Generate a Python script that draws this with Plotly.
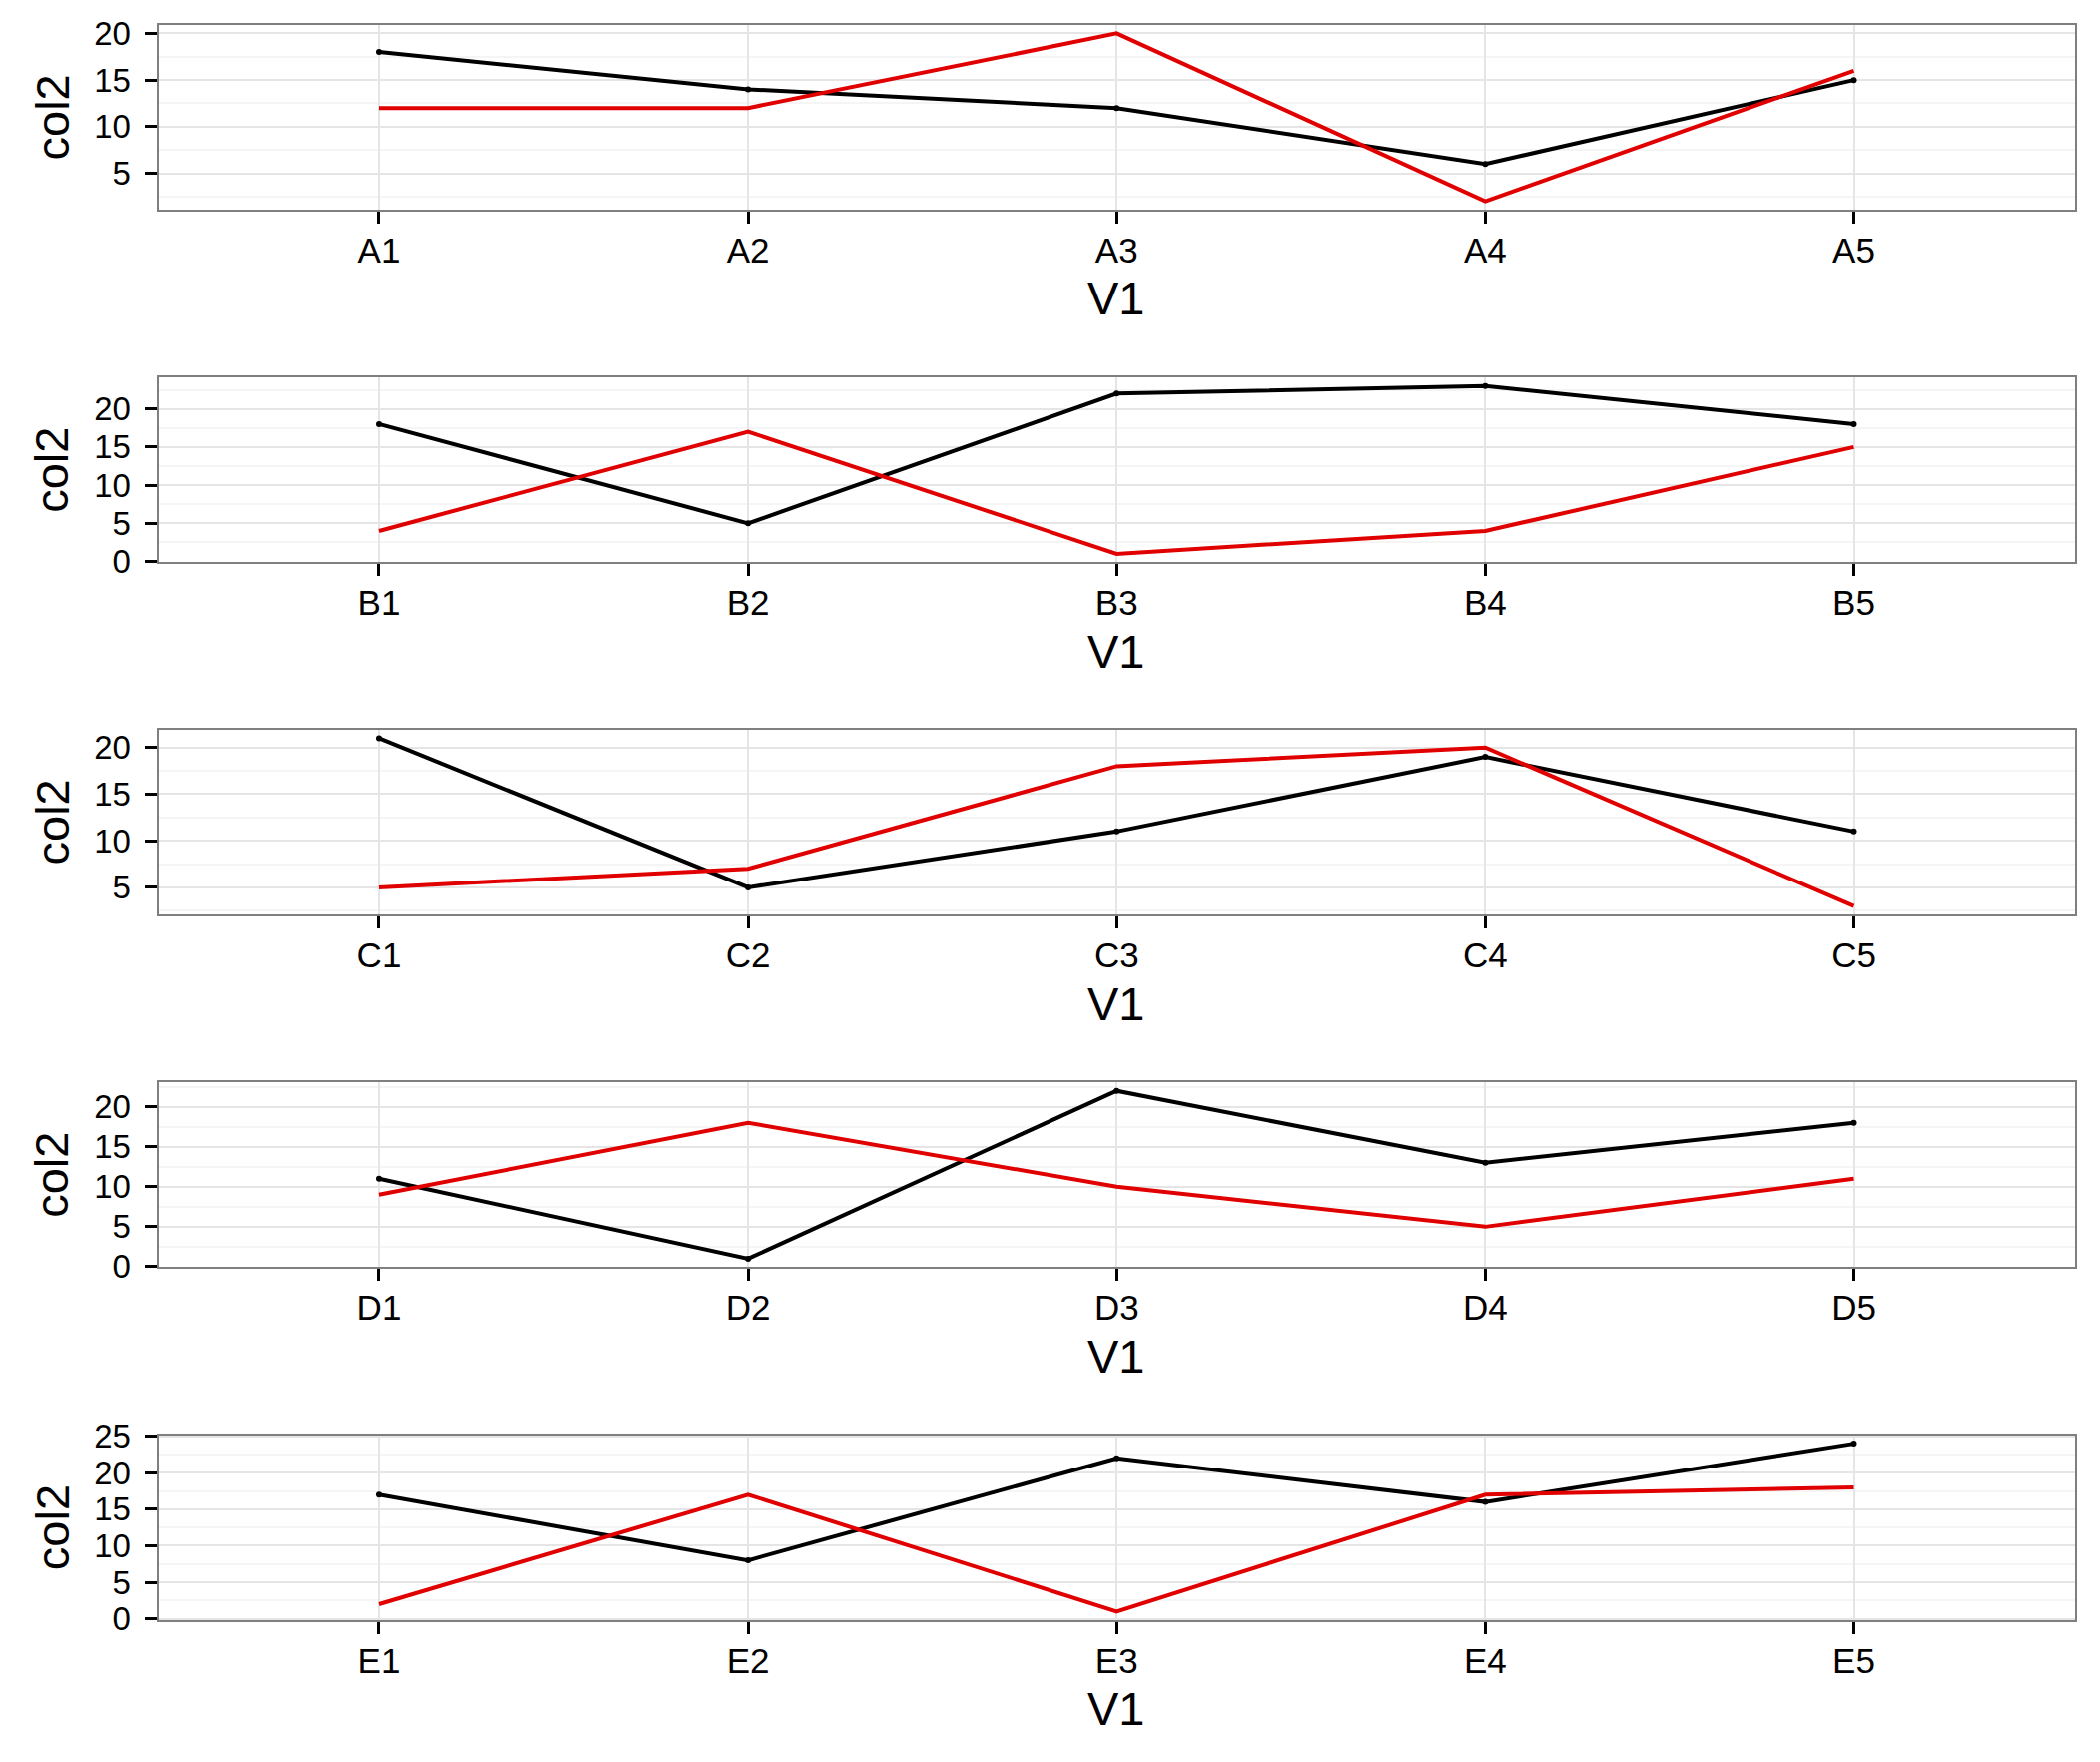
import plotly.graph_objects as go

# ---- data ----
labels_A = ["A1", "A2", "A3", "A4", "A5"]
black_A = [18, 14, 12, 6, 15]
red_A = [12, 12, 20, 2, 16]

labels_B = ["B1", "B2", "B3", "B4", "B5"]
black_B = [18, 5, 22, 23, 18]
red_B = [4, 17, 1, 4, 15]

labels_C = ["C1", "C2", "C3", "C4", "C5"]
black_C = [21, 5, 11, 19, 11]
red_C = [5, 7, 18, 20, 3]

labels_D = ["D1", "D2", "D3", "D4", "D5"]
black_D = [11, 1, 22, 13, 18]
red_D = [9, 18, 10, 5, 11]

labels_E = ["E1", "E2", "E3", "E4", "E5"]
black_E = [17, 8, 22, 16, 24]
red_E = [2, 17, 1, 17, 18]

x_title = "V1"
y_title = "col2"

panels = [
    (labels_A, black_A, red_A),
    (labels_B, black_B, red_B),
    (labels_C, black_C, red_C),
    (labels_D, black_D, red_D),
    (labels_E, black_E, red_E),
]

# ---- layout geometry (pixels) ----
W, H = 2103, 1765
OFF = 8  # page body margin
left_px, right_px = 158.5 - OFF, 2078 - OFF
panel_tops = [t - OFF for t in [25, 378.3, 731, 1084.3, 1437.7]]
panel_h = 185

FONT = "Liberation Sans, Arial, Helvetica, sans-serif"
XTICK_SIZE = 35
YTICK_SIZE = 33
TITLE_SIZE = 47
RED = "#E00000"
FRAME = "#7F7F7F"

fig = go.Figure()
annotations = []
layout = {}

for i, (labs, blk, rd) in enumerate(panels):
    n = i + 1
    xa = "x" if n == 1 else f"x{n}"
    ya = "y" if n == 1 else f"y{n}"
    fig.add_trace(go.Scatter(
        x=labs, y=blk, xaxis=xa, yaxis=ya, mode="lines+markers",
        line=dict(color="black", width=4),
        marker=dict(color="black", size=6), showlegend=False,
    ))
    fig.add_trace(go.Scatter(
        x=labs, y=rd, xaxis=xa, yaxis=ya, mode="lines",
        line=dict(color=RED, width=4), showlegend=False,
    ))
    lo = min(blk + rd)
    hi = max(blk + rd)
    span = hi - lo
    yr = [lo - 0.05 * span, hi + 0.05 * span]

    top = panel_tops[i]
    bot = top + panel_h
    dom_y = [1 - bot / H, 1 - top / H]
    dom_x = [left_px / W, right_px / W]

    layout["xaxis" if n == 1 else f"xaxis{n}"] = dict(
        domain=dom_x, anchor=ya, type="category",
        categoryorder="array", categoryarray=labs,
        range=[-0.6, len(labs) - 0.4],
        showline=True, linecolor=FRAME, linewidth=2, mirror=True,
        showgrid=True, gridcolor="#E5E5E5", gridwidth=2,
        ticks="outside", ticklen=12, tickwidth=3, tickcolor="black",
        tickfont=dict(family=FONT, size=XTICK_SIZE, color="black"),
        ticklabelstandoff=-3, zeroline=False, fixedrange=True,
        automargin=False,
    )
    layout["yaxis" if n == 1 else f"yaxis{n}"] = dict(
        domain=dom_y, anchor=xa, range=yr,
        tick0=0, dtick=5,
        showline=True, linecolor=FRAME, linewidth=2, mirror=True,
        showgrid=True, gridcolor="#E5E5E5", gridwidth=2,
        minor=dict(dtick=2.5, tick0=0, showgrid=True,
                   gridcolor="#F5F5F5", gridwidth=2, ticks=""),
        ticks="outside", ticklen=12, tickwidth=3, tickcolor="black",
        tickfont=dict(family=FONT, size=YTICK_SIZE, color="black"),
        ticklabelstandoff=7, zeroline=False, fixedrange=True,
        automargin=False,
    )
    # axis titles
    annotations.append(dict(
        text=x_title, xref="paper", yref="paper",
        x=(left_px + right_px) / 2 / W, y=1 - (bot + 89) / H,
        xanchor="center", yanchor="middle", showarrow=False,
        font=dict(family=FONT, size=TITLE_SIZE, color="black"),
    ))
    annotations.append(dict(
        text=y_title, xref="paper", yref="paper",
        x=(52 - OFF) / W, y=1 - (top + panel_h / 2) / H,
        xanchor="center", yanchor="middle", textangle=-90, showarrow=False,
        font=dict(family=FONT, size=TITLE_SIZE, color="black"),
    ))

fig.update_layout(
    width=W, height=H,
    margin=dict(l=0, r=0, t=0, b=0, pad=0, autoexpand=False),
    paper_bgcolor="white", plot_bgcolor="white",
    annotations=annotations,
    **layout,
)

fig.write_html("out.html")
